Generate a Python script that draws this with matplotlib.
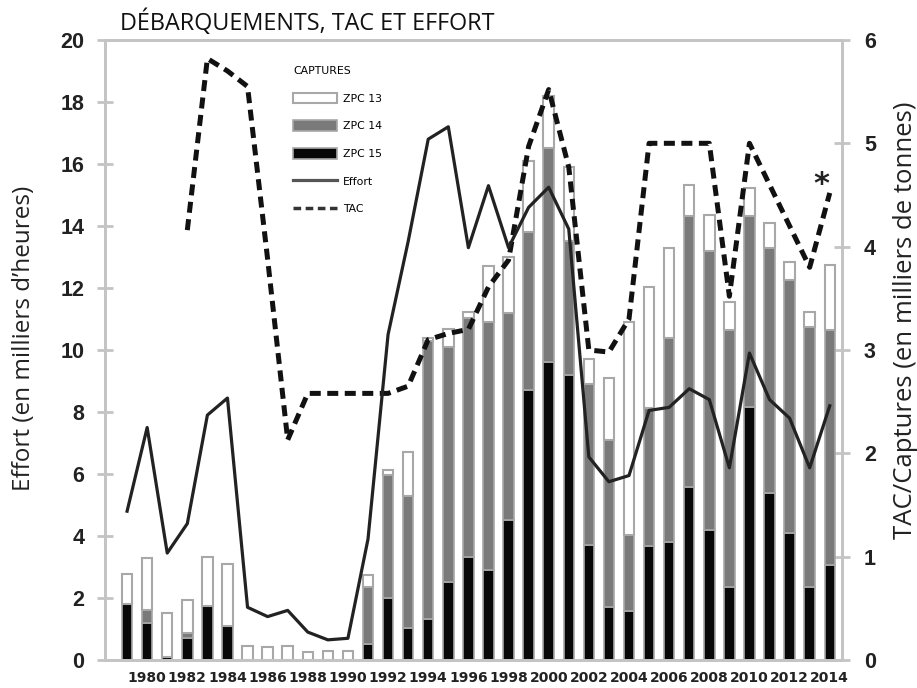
import matplotlib
matplotlib.use("Agg")
import matplotlib.pyplot as plt
import numpy as np
from matplotlib.patches import Patch
from matplotlib.lines import Line2D

years = list(range(1979, 2015))
# captures in thousand tonnes (right axis)
zpc15 = [0.54, 0.36, 0.03, 0.21, 0.52, 0.33, 0, 0, 0, 0, 0, 0, 0.15, 0.60, 0.31, 0.40,
         0.75, 1.00, 0.87, 1.35, 2.61, 2.88, 2.76, 1.11, 0.51, 0.47, 1.10, 1.14, 1.67, 1.26,
         0.71, 2.45, 1.62, 1.23, 0.71, 0.92]
zpc14 = [0, 0.12, 0, 0.05, 0, 0, 0, 0, 0, 0, 0, 0, 0.56, 1.19, 1.28, 2.69,
         2.28, 2.31, 2.40, 2.01, 1.53, 2.07, 1.29, 1.56, 1.62, 0.74, 1.34, 1.98, 2.63, 2.70,
         2.48, 1.85, 2.37, 2.45, 2.51, 2.27]
zpc13 = [0.29, 0.51, 0.42, 0.32, 0.48, 0.60, 0.14, 0.13, 0.14, 0.08, 0.09, 0.09, 0.11, 0.05, 0.42, 0.03,
         0.17, 0.06, 0.54, 0.54, 0.69, 0.51, 0.72, 0.24, 0.60, 2.06, 1.17, 0.87, 0.30, 0.35,
         0.27, 0.27, 0.24, 0.17, 0.15, 0.63]
# effort in thousand hours (left axis)
effort = [4.8, 7.5, 3.45, 4.4, 7.9, 8.45, 1.7, 1.4, 1.6, 0.9, 0.65, 0.7, 3.9, 10.5, 13.5, 16.8,
          17.2, 13.3, 15.3, 13.3, 14.6, 15.25, 13.9, 6.55, 5.75, 5.95, 8.05, 8.15, 8.75, 8.4,
          6.2, 9.9, 8.4, 7.8, 6.2, 8.2]
# TAC in thousand tonnes (right axis)
tac = [np.nan, np.nan, np.nan, 4.16, 5.82, 5.7, 5.55, 3.88, 2.13, 2.58, 2.58, 2.58, 2.58, 2.58, 2.65, 3.1,
       3.16, 3.2, 3.61, 3.87, 4.97, 5.52, 4.77, 3.0, 2.98, 3.3, 5.0, 5.0, 5.0, 5.0,
       3.52, 5.0, 4.6, 4.2, 3.8, 4.52]
xlabels = list(range(1980, 2015, 2))

fig = plt.figure(figsize=(9.17, 6.88), dpi=100)
ax = fig.add_axes([0.1145, 0.0407, 0.8035, 0.9012])
ax2 = ax.twinx()

spine_c = "#c4c4c4"
edge_c = "#a8a8a8"
x = np.array(years)
z15 = np.array(zpc15); z14 = np.array(zpc14); z13 = np.array(zpc13)
w = 0.52
ax2.bar(x, z15, width=w, color="#080808", edgecolor=edge_c, linewidth=1.2, zorder=2)
ax2.bar(x, z14, width=w, bottom=z15, color="#7a7a7a", edgecolor=edge_c, linewidth=1.2, zorder=2)
ax2.bar(x, z13, width=w, bottom=z15 + z14, color="white", edgecolor=edge_c, linewidth=1.5, zorder=2)
ax2.plot(x, tac, color="#111111", lw=3.6, dashes=(2.2, 1.3), zorder=4, solid_capstyle="butt")
ax2.text(2013.6, 4.6, "*", fontsize=22, fontweight="bold", color="#222222", ha="center", va="center")

ax.plot(x, effort, color="#222222", lw=2.3, zorder=3)
ax.set_zorder(ax2.get_zorder() + 1)
ax.patch.set_visible(False)

ax.set_xlim(1977.9, 2014.6)
ax.set_ylim(0, 20)
ax2.set_ylim(0, 6)
ax.set_yticks(range(0, 21, 2))
ax2.set_yticks(range(0, 7))
ax.set_xticks(xlabels)
ax.set_xticklabels([str(v) for v in xlabels], fontsize=10, fontweight="bold", family="Liberation Sans Narrow")
ax.tick_params(axis="x", length=0, pad=8, colors="#222222")
ax.tick_params(axis="y", direction="inout", length=12, width=2, color=spine_c, pad=9,
               labelsize=15.5)
ax2.tick_params(axis="y", direction="inout", length=12, width=2, color=spine_c, pad=10,
                labelsize=15.5)
for lab in ax.get_yticklabels() + ax2.get_yticklabels():
    lab.set_fontweight("bold")
    lab.set_family("Liberation Sans")
    lab.set_color("#222222")

for a in (ax, ax2):
    for s in a.spines.values():
        s.set_color(spine_c)
        s.set_linewidth(2)

ax.set_ylabel("Effort (en milliers d\u2019heures)", fontsize=17.5, family="Open Sans", color="#222222")
ax.yaxis.set_label_coords(-0.094, 0.518)
ax2.set_ylabel("TAC/Captures (en milliers de tonnes)", fontsize=18.5, family="Open Sans", color="#222222")
ax2.yaxis.set_label_coords(1.069, 0.548)
fig.text(0.131, 0.967, "DÉBARQUEMENTS, TAC ET EFFORT", fontsize=16.8, family="Open Sans",
         color="#111111", va="center", ha="left")

handles = [Patch(facecolor="white", edgecolor=edge_c, linewidth=1.5),
           Patch(facecolor="#7a7a7a", edgecolor=edge_c, linewidth=1.2),
           Patch(facecolor="#080808", edgecolor=edge_c, linewidth=1.2),
           Line2D([0], [0], color="#555555", lw=2.3),
           Line2D([0], [0], color="#333333", lw=2.5, dashes=(2.2, 1.3))]
leg = ax.legend(handles, ["ZPC 13", "ZPC 14", "ZPC 15", "Effort", "TAC"], title="CAPTURES",
                loc="upper left", bbox_to_anchor=(0.314, 0.912), bbox_transform=fig.transFigure,
                frameon=False, fontsize=7.8, title_fontproperties={"size": 7.8},
                alignment="left", handlelength=4.0, handleheight=1.1, labelspacing=1.55,
                handletextpad=0.6, borderpad=0)

fig.savefig("out.png", dpi=100)
